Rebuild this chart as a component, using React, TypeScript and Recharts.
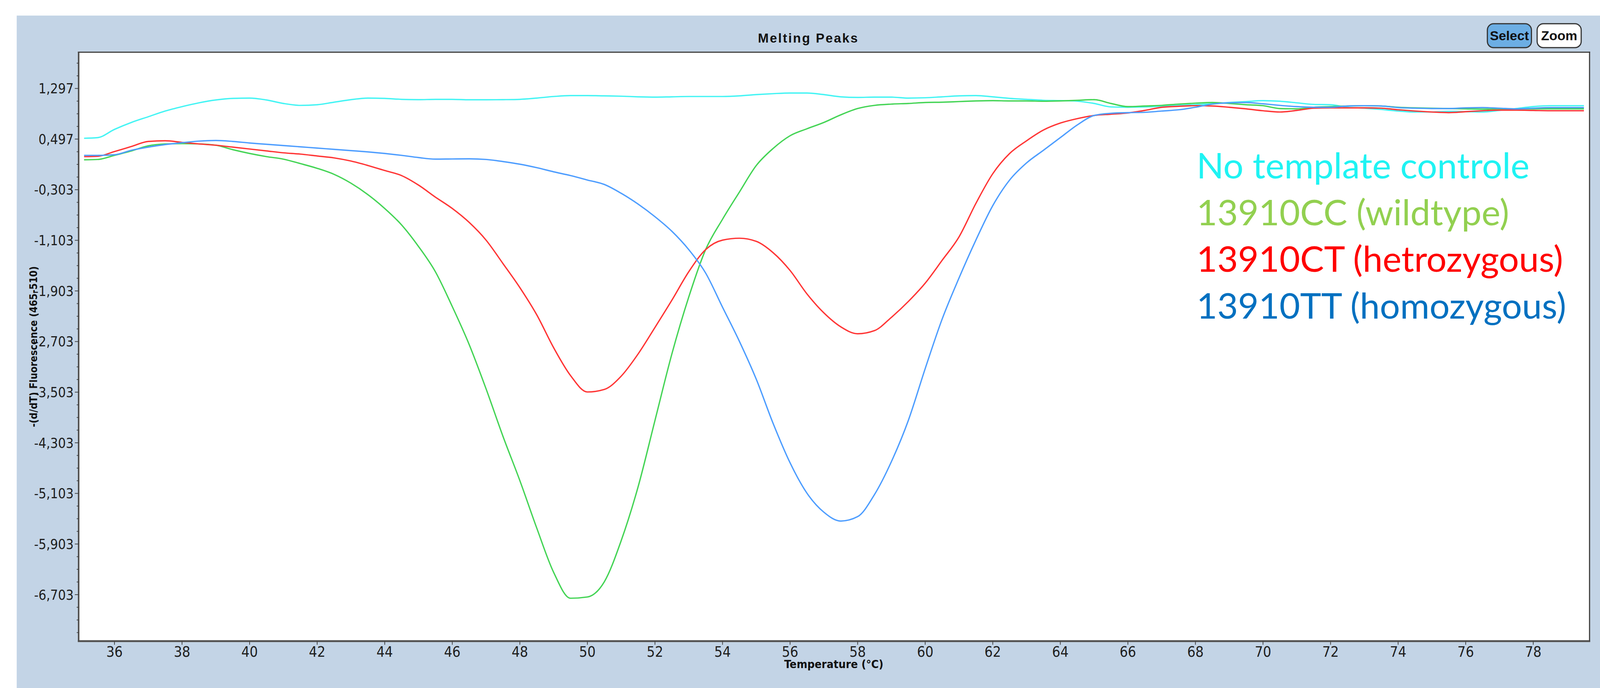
// Melting Peaks – -(d/dT) Fluorescence vs. Temperatur (Recharts)
import { LineChart, Line, XAxis, YAxis } from 'recharts';

const NARROW = "'Liberation Sans Narrow', 'DejaVu Sans Condensed', 'Liberation Sans', sans-serif";
const W = 4212;
const H = 1762;

// Temperatur (°C)
const temps = [
  35.1, 35.5, 36, 36.5, 37, 37.5, 38, 38.5, 39, 39.5,
  40, 40.5, 41, 41.5, 42, 42.5, 43, 43.5, 44, 44.5,
  45, 45.5, 46, 46.5, 47, 47.5, 48, 48.5, 49, 49.5,
  50, 50.5, 51, 51.5, 52, 52.5, 53, 53.5, 54, 54.5,
  55, 55.5, 56, 56.5, 57, 57.5, 58, 58.5, 59, 59.5,
  60, 60.5, 61, 61.5, 62, 62.5, 63, 63.5, 64, 64.5,
  65, 65.5, 66, 66.5, 67, 67.5, 68, 68.5, 69, 69.5,
  70, 70.5, 71, 71.5, 72, 72.5, 73, 73.5, 74, 74.5,
  75, 75.5, 76, 76.5, 77, 77.5, 78, 78.5, 79, 79.5,
];

// No template controle
const ntc = [
  0.51, 0.52, 0.65, 0.76, 0.85, 0.94, 1.01, 1.07, 1.115, 1.14,
  1.145, 1.115, 1.06, 1.03, 1.04, 1.08, 1.12, 1.145, 1.14, 1.125,
  1.12, 1.125, 1.125, 1.118, 1.118, 1.12, 1.125, 1.145, 1.17, 1.185,
  1.185, 1.18, 1.175, 1.165, 1.16, 1.165, 1.17, 1.17, 1.17, 1.18,
  1.2, 1.215, 1.225, 1.225, 1.2, 1.165, 1.155, 1.16, 1.16, 1.145,
  1.15, 1.165, 1.18, 1.185, 1.165, 1.14, 1.125, 1.11, 1.105, 1.096,
  1.06, 1.005, 1.0, 1.005, 1.015, 1.03, 1.04, 1.055, 1.075, 1.09,
  1.105, 1.095, 1.07, 1.045, 1.04, 1.0, 0.985, 0.965, 0.94, 0.925,
  0.925, 0.935, 0.93, 0.925, 0.95, 0.98, 1.01, 1.025, 1.025, 1.025,
];

// 13910CC (wildtype)
const cc = [
  0.17, 0.175, 0.24, 0.31, 0.39, 0.42, 0.425, 0.42, 0.4, 0.33,
  0.27, 0.22, 0.18, 0.11, 0.035, -0.06, -0.2, -0.38, -0.6, -0.86,
  -1.2, -1.6, -2.15, -2.75, -3.45, -4.2, -4.9, -5.65, -6.35, -6.76,
  -6.74, -6.5, -5.85, -5.0, -3.95, -2.9, -2.0, -1.25, -0.77, -0.34,
  0.08, 0.35, 0.55, 0.66, 0.76, 0.88, 0.98, 1.03, 1.05, 1.06,
  1.075, 1.08, 1.09, 1.1, 1.105, 1.1, 1.1, 1.095, 1.1, 1.11,
  1.12, 1.06, 1.01, 1.02, 1.03, 1.05, 1.065, 1.075, 1.06, 1.04,
  1.025, 0.98, 0.975, 1.0, 1.01, 1.02, 1.025, 1.02, 1.0, 0.99,
  0.985, 0.98, 0.975, 0.97, 0.975, 0.975, 0.975, 0.975, 0.975, 0.975,
];

// 13910CT (hetrozygous)
const ct = [
  0.22, 0.225, 0.3, 0.38, 0.46, 0.47, 0.445, 0.42, 0.4, 0.37,
  0.34, 0.31, 0.28, 0.26, 0.23, 0.2, 0.15, 0.08, 0.0, -0.08,
  -0.23, -0.42, -0.6, -0.82, -1.1, -1.47, -1.85, -2.28, -2.8, -3.24,
  -3.5, -3.46, -3.25, -2.9, -2.48, -2.05, -1.6, -1.25, -1.1, -1.07,
  -1.12, -1.3, -1.58, -1.95, -2.25, -2.47, -2.58, -2.53, -2.32, -2.07,
  -1.78, -1.42, -1.05, -0.52, -0.05, 0.27, 0.47, 0.64, 0.75, 0.82,
  0.87, 0.89, 0.91, 0.95, 1.0, 1.015, 1.025, 1.02, 1.0, 0.975,
  0.945, 0.925, 0.95, 0.985, 0.99, 0.99, 0.99, 0.985, 0.96, 0.94,
  0.925, 0.915, 0.93, 0.945, 0.955, 0.955, 0.95, 0.945, 0.945, 0.945,
];

// 13910TT (homozygous)
const tt = [
  0.24, 0.24, 0.25, 0.32, 0.37, 0.41, 0.44, 0.465, 0.475, 0.46,
  0.435, 0.415, 0.395, 0.375, 0.355, 0.335, 0.315, 0.295, 0.27, 0.24,
  0.205, 0.18, 0.183, 0.185, 0.175, 0.142, 0.1, 0.045, -0.02, -0.08,
  -0.15, -0.22, -0.36, -0.53, -0.73, -0.96, -1.25, -1.62, -2.16, -2.7,
  -3.3, -4.0, -4.62, -5.1, -5.4, -5.54, -5.47, -5.12, -4.6, -3.95,
  -3.13, -2.35, -1.7, -1.1, -0.555, -0.15, 0.12, 0.32, 0.52, 0.72,
  0.87, 0.905, 0.915, 0.92, 0.94, 0.96, 1.0, 1.05, 1.07, 1.075,
  1.055, 1.03, 1.01, 1.0, 1.0, 1.02, 1.025, 1.02, 0.995, 0.985,
  0.98, 0.98, 0.99, 0.995, 0.985, 0.975, 0.985, 0.995, 0.995, 0.995,
];

const xTicks = [36, 38, 40, 42, 44, 46, 48, 50, 52, 54, 56, 58, 60, 62, 64, 66, 68, 70, 72, 74, 76, 78];
const yMajorTicks = [1.297, 0.497, -0.303, -1.103, -1.903, -2.703, -3.503, -4.303, -5.103, -5.903, -6.703];

// Zwischenstriche alle 0,2
const yAllTicks = [1.697, 1.497, ...yMajorTicks.flatMap(m => [m, m - 0.2, m - 0.4, m - 0.6])]
  .map(v => Math.round(v * 1000) / 1000)
  .filter(v => v >= -7.43 && v <= 1.86);

const SERIES = [
  { key: 'ntc', label: 'No template controle', line: '#44f4f4', text: '#1ff3f3' },
  { key: 'cc', label: '13910CC (wildtype)', line: '#44d455', text: '#92d050' },
  { key: 'ct', label: '13910CT (hetrozygous)', line: '#ff3535', text: '#ff0000' },
  { key: 'tt', label: '13910TT (homozygous)', line: '#4d9dff', text: '#0070c0' },
];

const data = temps.map((t, i) => ({ t, ntc: ntc[i], cc: cc[i], ct: ct[i], tt: tt[i] }));

const Y_TICK_SIZE = 11;
const Y_TICK_MARGIN = 3;

function isMajor(v: number): boolean {
  return yMajorTicks.some(m => Math.abs(m - v) < 1e-6);
}

// eigener Tick: lange Striche mit Beschriftung, kurze ohne
function YTick(props: any) {
  const { x, y, payload } = props;
  const axisX = x + Y_TICK_MARGIN + Y_TICK_SIZE;
  const major = isMajor(payload.value);
  return (
    <g>
      <line x1={axisX - (major ? Y_TICK_SIZE : 6)} x2={axisX} y1={y} y2={y} stroke="#444" strokeWidth={2} />
      {major && (
        <text x={x} y={y} dy="0.36em" textAnchor="end" fontSize={36} fill="#1e1e1e" fontFamily={NARROW}>
          {payload.value.toFixed(3).replace('.', ',')}
        </text>
      )}
    </g>
  );
}

const buttonStyle = {
  position: 'absolute' as const,
  top: 61,
  width: 119,
  height: 66,
  boxSizing: 'border-box' as const,
  border: '3px solid #333',
  borderRadius: 18,
  fontFamily: "'Liberation Sans', Arial, sans-serif",
  fontWeight: 700,
  fontSize: 35,
  color: '#111',
  display: 'flex',
  alignItems: 'center',
  justifyContent: 'center',
};

export default function App() {
  // an die tatsächliche Fensterbreite anpassen, falls sie kleiner als 4212 ist
  const vw = typeof window !== 'undefined' ? document.documentElement.clientWidth || window.innerWidth : W;
  const vh = typeof window !== 'undefined' ? document.documentElement.clientHeight || window.innerHeight : H;
  const scale = Math.min(1, vw / W);
  const boxH = Math.max(H, Math.ceil(vh / scale));

  return (
    <div style={{ position: 'fixed', left: 0, top: 0, width: W, height: boxH, overflow: 'hidden', transform: `scale(${scale})`, transformOrigin: '0 0' }}>
      <div style={{ position: 'absolute', left: 0, top: 0, width: W, height: boxH, background: '#fff' }} />
      {/* Fensterhintergrund */}
      <div style={{ position: 'absolute', left: 44, top: 41, right: 0, bottom: 0, background: '#c3d4e6' }} />

      <div
        style={{
          position: 'absolute', left: 44, right: 0, top: 83, textAlign: 'center',
          fontFamily: "'Liberation Sans', Arial, sans-serif", fontWeight: 700, fontSize: 34,
          lineHeight: '34px', letterSpacing: 3, color: '#111',
        }}
      >
        Melting Peaks
      </div>

      <div style={{ ...buttonStyle, left: 3914, background: '#6caee4' }}>Select</div>
      <div style={{ ...buttonStyle, left: 4045, background: '#fff' }}>Zoom</div>

      {/* Plotfläche */}
      <div
        style={{
          position: 'absolute', left: 205, top: 136, width: 3981, height: 1555,
          boxSizing: 'border-box', background: '#fff',
          borderTop: '3px solid #3a3a3a', borderLeft: '4px solid #4a4a4a',
          borderRight: '3px solid #3a3a3a', borderBottom: '5px solid #505050',
        }}
      />

      <LineChart
        width={W}
        height={H}
        data={data}
        margin={{ top: 139, right: 29, left: 108, bottom: 14 }}
        style={{ position: 'absolute', left: 0, top: 0 }}
      >
        <XAxis
          type="number"
          dataKey="t"
          domain={[34.95, 79.65]}
          ticks={xTicks}
          interval={0}
          allowDataOverflow
          axisLine={false}
          tickLine={{ stroke: '#444', strokeWidth: 2 }}
          tickSize={10}
          tickMargin={5}
          height={60}
          tick={{ fontSize: 38, fill: '#1e1e1e', fontFamily: NARROW }}
        />
        <YAxis
          type="number"
          domain={[-7.435, 1.861]}
          ticks={yAllTicks}
          interval={0}
          allowDataOverflow
          axisLine={false}
          tickLine={{ stroke: 'none' }}
          tickSize={Y_TICK_SIZE}
          tickMargin={Y_TICK_MARGIN}
          width={100}
          tick={<YTick />}
        />
        {SERIES.map(s => (
          <Line
            key={s.key}
            type="monotone"
            dataKey={s.key}
            name={s.label}
            stroke={s.line}
            strokeWidth={3.5}
            dot={false}
            activeDot={false}
            isAnimationActive={false}
          />
        ))}
      </LineChart>

      {/* Achsentitel */}
      <div
        style={{
          position: 'absolute', left: 88, top: 913, transform: 'translate(-50%, -50%) rotate(-90deg)',
          whiteSpace: 'nowrap', fontFamily: NARROW, fontWeight: 700, fontSize: 27, color: '#111',
        }}
      >
        -(d/dT) Fluorescence (465-510)
      </div>
      <div
        style={{
          position: 'absolute', left: 2195, top: 1734, transform: 'translateX(-50%)',
          whiteSpace: 'nowrap', fontFamily: NARROW, fontWeight: 700, fontSize: 30,
          lineHeight: '30px', color: '#111',
        }}
      >
        Temperature (°C)
      </div>

      {/* Legende im Plot */}
      <div style={{ position: 'absolute', left: 3150, top: 372, fontFamily: "Lato, 'Open Sans', sans-serif", fontSize: 94, lineHeight: '123px' }}>
        {SERIES.map(s => (
          <div key={s.key} style={{ color: s.text, whiteSpace: 'nowrap' }}>{s.label}</div>
        ))}
      </div>
    </div>
  );
}
